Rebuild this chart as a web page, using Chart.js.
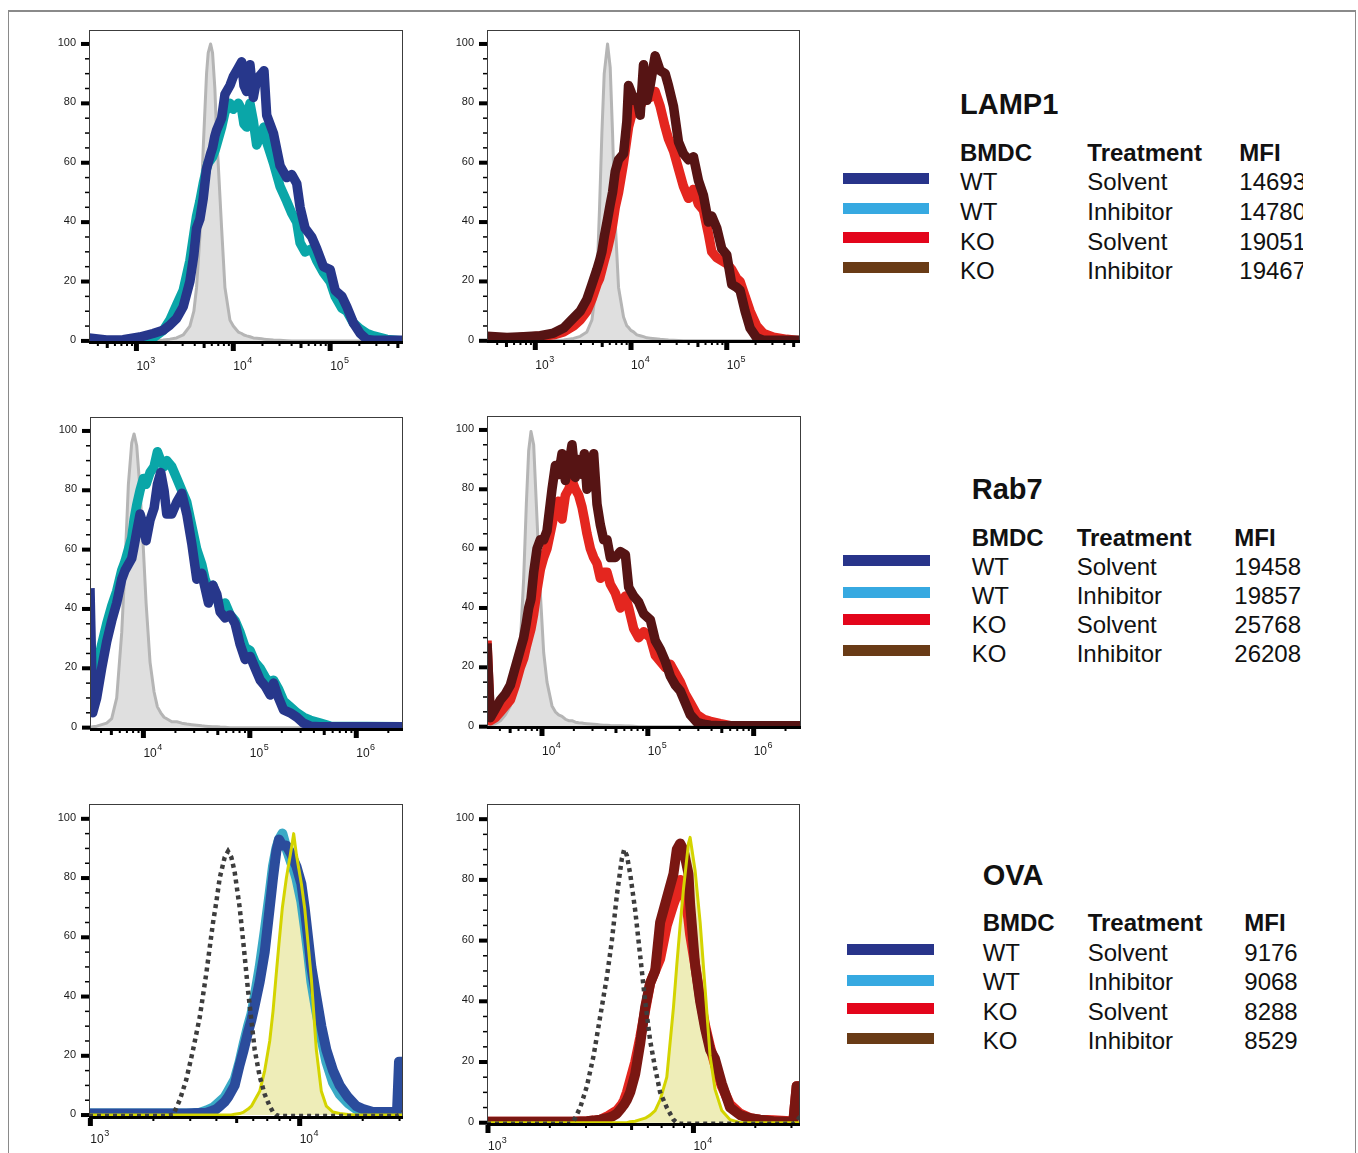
<!DOCTYPE html>
<html>
<head>
<meta charset="utf-8">
<script src="https://cdn.jsdelivr.net/npm/chart.js@4.4.1/dist/chart.umd.min.js"></script>
<style>
  body { margin: 0; background: #fff; }
  #page { position: relative; width: 1358px; height: 1153px; overflow: hidden; background: #fff;
          font-family: "Liberation Sans", Arial, Helvetica, sans-serif; color: #111; }
  #frame { position: absolute; left: 8px; top: 10px; width: 1346px; height: 1160px;
           border-top: 2px solid #8a8a8a; border-left: 1px solid #8a8a8a; border-right: 1px solid #8a8a8a; }
  canvas { position: absolute; }
  .t { position: absolute; white-space: nowrap; line-height: 1; }
  .sw { position: absolute; }
  .clip { position: absolute; overflow: hidden; }
</style>
</head>
<body>
<div id="page"><div id="frame"></div></div>
<script>
// ---- axis ticks ----
const yMajorTicks = [0, 20, 40, 60, 80, 100];
const yMinorTicks = [5, 10, 15, 25, 30, 35, 45, 50, 55, 65, 70, 75, 85, 90, 95];
const xTickMultiples = [1, 2, 3, 4, 5, 6, 7, 8, 9];

// ---- LAMP1, WT panel ----
const lampWtX = [324, 490, 728, 1082, 1486, 1887, 2212, 2593, 3040, 3564, 3918, 4177, 4520, 4895, 5297, 5508, 5834, 6109, 6456, 6727, 7578, 8199, 9239, 10000, 11270, 12200, 12890, 13740, 14870, 16100, 17420, 19630, 20750, 22130, 25940, 30400, 35640, 40110, 45190, 48950, 55090, 64570, 72770, 85320, 100000, 112700, 132100, 148600, 174200, 204300, 239400, 280600, 385500, 564900];
const lampWtSolvent = [1, 0.3, 0.4, 1.3, 2.5, 3.6, 5.3, 7.5, 11.5, 20, 29, 38, 41, 48, 58, 60, 63, 65, 69, 71, 75, 83, 86, 89, 92, 94, 86, 84, 93, 82, 88, 90, 91, 76, 70, 59, 55, 56, 53, 45, 38, 35, 31, 25, 24, 17, 15, 11.5, 6, 2.5, 0.5, 0.2, 0.2, 0.2];
const lampWtInhibitor = [0.3, 0, 0, 0.3, 1, 3.5, 7, 12, 17, 27, 36, 42, 47, 53, 58, 60, 61, 62, 64, 66, 72, 77, 80, 78, 80, 78, 73, 72, 80, 74, 66, 70, 72, 67, 60, 52, 47, 43, 40, 33, 30, 31, 27, 23, 20, 15, 11, 10, 6, 4, 2.5, 1.7, 0.5, 0];
const lampWtIsotype = [0, 0, 0, 0, 0, 0.3, 0.6, 1, 2, 5, 10, 18, 35, 65, 90, 97, 100, 97, 85, 70, 38, 18, 7, 5, 3, 2.5, 2, 1.7, 1.4, 1, 0.9, 0.7, 0.6, 0.5, 0.3, 0.2, 0.1, 0, 0, 0, 0, 0, 0, 0, 0, 0, 0, 0, 0, 0, 0, 0, 0, 0];

// ---- LAMP1, KO panel ----
const lampKoX = [313, 506, 756, 1128, 1554, 1976, 2512, 2949, 3460, 3903, 4400, 4692, 4963, 5248, 5687, 6063, 6412, 6837, 7406, 8352, 9048, 9417, 9961, 10620, 11510, 12460, 13500, 14630, 15850, 17870, 20150, 22730, 24620, 27770, 31310, 35310, 39810, 44890, 50620, 57080, 64370, 69730, 78660, 88690, 100000, 112800, 127200, 137800, 155400, 175200, 205600, 241400, 306900, 422700, 582300];
const lampKoSolvent = [0.5, 0.7, 1.2, 1.5, 2, 3, 5, 7, 10, 14, 19, 21, 24, 27, 31, 35, 39, 45, 50, 60, 68, 72, 75, 78, 80, 79, 81, 83, 82, 84, 79, 72, 68, 64, 58, 52, 48, 51, 46, 44, 36, 30, 28, 27, 26, 24, 21, 20, 15, 10, 5, 2.5, 1.2, 0.5, 0];
const lampKoInhibitor = [1.5, 1.1, 1.4, 1.7, 2.6, 4.3, 7.7, 10, 14, 19, 24, 27, 30, 35, 41, 46, 50, 57, 61, 63, 74, 86, 84, 81, 82, 76, 93, 81, 86, 96, 91, 90, 86, 79, 67, 63, 61, 62, 54, 49, 40, 42, 38, 31, 29, 19, 18, 17, 10, 4.3, 1, 0.2, 0.2, 0.2, 0.2];
const lampKoIsotype = [0, 0, 0, 0, 0, 0.3, 0.8, 1.5, 3, 7, 20, 45, 70, 90, 100, 92, 70, 40, 18, 8, 5, 4.5, 3.5, 3, 2, 1.7, 1.4, 1, 0.9, 0.7, 0.5, 0.4, 0.3, 0.2, 0.1, 0, 0, 0, 0, 0, 0, 0, 0, 0, 0, 0, 0, 0, 0, 0, 0, 0, 0, 0, 0];

// ---- Rab7, WT panel ----
const rabWtX = [3150, 3338, 3640, 4057, 4521, 5038, 5614, 6256, 6722, 7226, 7770, 8171, 8656, 9305, 10000, 10600, 11550, 12600, 13540, 14550, 15640, 16570, 18470, 20580, 22940, 25560, 28480, 31740, 35370, 38010, 40860, 44870, 48940, 52600, 58620, 65320, 72800, 81110, 90400, 100700, 112200, 125100, 139400, 155300, 167000, 186100, 207400, 239400, 276700, 319700, 369400, 458600, 569300, 2748000];
const rabWtSolvent = [47, 5, 10, 20, 29, 36, 42, 50, 53, 55, 57, 61, 66, 72, 68, 63, 70, 74, 82, 86, 80, 72, 72, 76, 79, 72, 62, 50, 52, 47, 42, 48, 45, 39, 37, 38, 35, 28, 23, 24, 20, 16, 14, 11, 15, 10, 6, 5, 3.5, 1.5, 0.5, 0.3, 0.3, 0.3];
const rabWtInhibitor = [16, 15, 20, 28, 35, 41, 46, 53, 56, 60, 64, 70, 75, 80, 84, 82, 86, 88, 93, 90, 88, 90, 88, 84, 80, 76, 68, 60, 55, 50, 47, 48, 44, 40, 42, 38, 36, 32, 27, 26, 22, 20, 17, 15, 16, 13, 9, 7, 5, 3.5, 2.5, 1.5, 0.5, 0.3];
const rabWtIsotype = [0, 0.3, 0.5, 1, 1.5, 3, 10, 32, 55, 82, 96, 99, 95, 80, 60, 42, 22, 12, 7, 5, 3.5, 3, 2, 2, 1.5, 1.2, 1, 0.8, 0.6, 0.5, 0.4, 0.3, 0.3, 0.2, 0.1, 0, 0, 0, 0, 0, 0, 0, 0, 0, 0, 0, 0, 0, 0, 0, 0, 0, 0, 0];

// ---- Rab7, KO panel ----
const rabKoX = [3022, 3250, 3624, 4040, 4503, 5021, 5598, 6241, 6711, 7112, 7482, 7871, 8343, 8971, 9645, 10370, 11150, 12430, 13370, 14370, 15450, 16620, 17870, 19210, 20650, 22210, 23880, 25120, 26620, 28620, 30770, 33090, 35580, 38250, 41130, 44220, 49310, 54980, 61310, 65920, 73490, 81920, 91340, 105600, 117700, 131300, 146400, 163200, 181900, 202800, 226100, 252100, 291400, 337000, 389600, 484200, 601800, 2801000];
const rabKoSolvent = [29, 2, 3, 5, 7, 9, 14, 20, 23, 27, 30, 33, 38, 46, 53, 57, 60, 68, 74, 76, 70, 78, 80, 83, 80, 78, 74, 70, 65, 60, 57, 55, 50, 52, 52, 48, 45, 40, 44, 40, 33, 30, 32, 30, 24, 22, 20, 21, 18, 15, 11, 8, 4, 2.5, 1.8, 1, 0.3, 0.3];
const rabKoInhibitor = [28, 3, 6, 9, 11, 14, 20, 26, 30, 35, 40, 43, 52, 60, 63, 63, 66, 80, 88, 85, 92, 83, 88, 95, 84, 90, 85, 92, 80, 82, 92, 75, 68, 63, 63, 57, 57, 59, 58, 47, 44, 42, 38, 36, 29, 26, 22, 17, 14, 12, 8, 4, 1.5, 0.8, 0.5, 0.3, 0.3, 0.3];
const rabKoIsotype = [0, 0.5, 1, 2, 4, 7, 14, 28, 50, 75, 93, 99.5, 95, 70, 45, 25, 15, 7, 5, 4, 3.5, 2.5, 2, 2, 1.5, 1.3, 1.2, 1.1, 1, 0.9, 0.8, 0.7, 0.6, 0.5, 0.5, 0.4, 0.3, 0.3, 0.2, 0.2, 0.1, 0, 0, 0, 0, 0, 0, 0, 0, 0, 0, 0, 0, 0, 0, 0, 0, 0];

// ---- OVA, WT panel ----
const ovaWtX = [985, 1721, 2307, 2483, 2672, 2874, 3094, 3330, 3583, 3855, 3999, 4148, 4382, 4546, 4716, 4892, 5169, 5401, 5666, 5877, 6096, 6442, 6806, 7192, 7457, 7735, 7966, 8264, 8638, 9125, 9361, 9640, 10190, 10560, 10960, 11370, 12010, 12690, 13410, 14430, 15530, 17020, 18650, 20070, 22400, 27920, 29170, 29820, 31160];
const ovaWtSolvent = [0.5, 0.5, 0.5, 0.5, 0.5, 0.5, 0.6, 0.7, 0.8, 1.5, 2, 3, 4.5, 6, 8, 10, 17, 22, 28, 32, 37, 45, 55, 70, 80, 89, 93, 91, 91, 88, 86, 84, 78, 70, 60, 50, 40, 30, 22, 15, 10, 6, 3, 2, 1, 1, 1, 18, 18];
const ovaWtInhibitor = [0.5, 0.5, 0.5, 0.5, 0.5, 0.5, 0.6, 0.8, 1.5, 2.5, 3.5, 4.5, 6, 8, 10, 12, 18, 24, 30, 34, 40, 50, 62, 75, 84, 90, 93, 95, 90, 85, 83, 80, 72, 64, 55, 45, 35, 26, 18, 11, 7, 4, 2, 1, 0.5, 0.5, 0.5, 0.5, 0.5];
const ovaWtUnstained = [-0.3, -0.3, -0.3, 0, 5, 12, 22, 33, 48, 65, 72, 80, 87, 89, 87, 82, 70, 57, 42, 32, 22, 13, 7, 3, 1, 0, -0.3, -0.3, -0.3, -0.3, -0.3, -0.3, -0.3, -0.3, -0.3, -0.3, -0.3, -0.3, -0.3, -0.3, -0.3, -0.3, -0.3, -0.3, -0.3, -0.3, -0.3, 0, 1];
const ovaWtReference = [0, 0, 0, 0, 0, 0, 0, 0, 0, 0, 0, 0, 0, 0, 0, 0.3, 0.5, 1, 2, 3, 5, 8, 15, 25, 35, 48, 58, 70, 80, 90, 95, 88, 78, 70, 58, 46, 22, 8, 3, 1, 0.5, 0.2, 0, 0, 0, 0, 0, 0, 0];

// ---- OVA, KO panel ----
const ovaKoX = [989, 2514, 2609, 2811, 3029, 3264, 3517, 3790, 4009, 4240, 4483, 4602, 4743, 4922, 5205, 5505, 5821, 6156, 6510, 6885, 7419, 7994, 8299, 8615, 8943, 9457, 9634, 10190, 10780, 11400, 12050, 12740, 13740, 15080, 16870, 18860, 21090, 24490, 29510, 30630, 31800, 33010];
const ovaKoSolvent = [0.3, 0.3, 0.3, 0.4, 0.5, 0.7, 1, 2, 3, 4, 6, 7.5, 10, 14, 20, 28, 37, 46, 50, 54, 65, 72, 75, 80, 78, 67, 62, 52, 41, 32, 25, 19, 12, 6, 3, 1.5, 1, 0.8, 0.5, 0.5, 12, 12];
const ovaKoInhibitor = [0.3, 0.3, 0.3, 0.4, 0.5, 0.7, 1, 1.5, 2, 3, 5, 6, 7.5, 10, 16, 26, 38, 46, 50, 66, 74, 82, 90, 92, 90, 82, 72, 52, 40, 31, 24, 21, 13, 5, 2.5, 1.5, 1, 0.5, 0.3, 0.5, 12, 12];
const ovaKoUnstained = [-0.3, -0.3, 0.5, 5, 12, 22, 35, 48, 60, 75, 87, 90, 88, 82, 70, 55, 40, 27, 18, 10, 5, 1, 0, -0.3, -0.3, -0.3, -0.3, -0.3, -0.3, -0.3, -0.3, -0.3, -0.3, -0.3, -0.3, -0.3, -0.3, -0.3, -0.3, -0.3, 0.5, 2];
const ovaKoReference = [0, 0, 0, 0, 0, 0, 0, 0, 0, 0, 0, 0, 0, 0.3, 0.5, 1, 1.5, 2.5, 4, 7.5, 15, 38, 52, 65, 77, 92, 94, 83, 66, 44, 22, 11, 4, 1, 0, 0, 0, 0, 0, 0, 0, 0];

// ---- legend tables ----
const legendBmdc = ['WT', 'WT', 'KO', 'KO'];
const legendTreatment = ['Solvent', 'Inhibitor', 'Solvent', 'Inhibitor'];
const legendColors = ['#28348a', '#36a9e1', '#e3051b', '#693b16'];
const mfiLamp1 = ['14693', '14780', '19051', '19467'];
const mfiRab7 = ['19458', '19857', '25768', '26208'];
const mfiOva = ['9176', '9068', '8288', '8529'];

const FONT = '"Liberation Sans", Arial, Helvetica, sans-serif';
const page = document.getElementById('page');

const flowAxes = {
  id: 'flowAxes',
  afterDraw(chart) {
    const o = chart.options.plugins.flowAxes;
    const { ctx, chartArea: a } = chart;
    const xs = chart.scales.x, ys = chart.scales.y;
    ctx.save();
    ctx.strokeStyle = '#3c3c3c';
    ctx.lineWidth = 1;
    ctx.strokeRect(a.left + 0.5, a.top + 0.5, a.right - a.left - 1, a.bottom - a.top - 1);
    ctx.fillStyle = '#000';
    ctx.fillRect(a.left, a.bottom - 2, a.right - a.left, 3);

    // y axis
    ctx.font = '11px ' + FONT;
    ctx.textAlign = 'right';
    ctx.textBaseline = 'middle';
    yMajorTicks.forEach(v => {
      const py = ys.getPixelForValue(v);
      ctx.fillStyle = '#000';
      ctx.fillRect(a.left - 8, py - 2, 8, 4);
      ctx.fillStyle = '#1a1a1a';
      ctx.fillText(String(v), a.left - 13, py - 1);
    });
    ctx.fillStyle = '#000';
    yMinorTicks.forEach(v => {
      const py = ys.getPixelForValue(v);
      ctx.fillRect(a.left - 4, py - 0.75, 4, 1.5);
    });

    // x axis (log decades)
    const lo = Math.floor(Math.log10(xs.min)), hi = Math.ceil(Math.log10(xs.max));
    for (let e = lo; e <= hi; e++) {
      xTickMultiples.forEach(m => {
        const v = m * Math.pow(10, e);
        if (v < xs.min || v > xs.max) return;
        const px = xs.getPixelForValue(v);
        if (m === 1) ctx.fillRect(px - 2.5, a.bottom, 5, 8);
        else if (m === 5) ctx.fillRect(px - 1.5, a.bottom, 3, 5);
        else ctx.fillRect(px - 1, a.bottom, 2, 3);
      });
    }
    ctx.fillStyle = '#1a1a1a';
    ctx.textAlign = 'left';
    ctx.textBaseline = 'alphabetic';
    o.exps.forEach(e => {
      const px = xs.getPixelForValue(Math.pow(10, e)) + o.labelShift;
      const base = a.bottom + o.labelGap;
      ctx.font = '12px ' + FONT;
      ctx.fillText('10', px, base);
      const w = ctx.measureText('10').width;
      ctx.font = '9px ' + FONT;
      ctx.fillText(String(e), px + w + 0.5, base - 7);
    });
    ctx.restore();
  }
};

const pts = (xs, ys) => xs.map((x, i) => ({ x, y: ys[i] }));

function line(xs, ys, color, width, extra) {
  return Object.assign({
    data: pts(xs, ys), borderColor: color, borderWidth: width, pointRadius: 0,
    tension: 0, fill: false, clip: 0, borderJoinStyle: 'round'
  }, extra || {});
}

function panel(area, xMin, xMax, yMin, yMax, exps, labelGap, datasets) {
  const padL = 50, padT = 12, padR = 12, padB = 45;
  const w = area[2] - area[0] + padL + padR;
  const h = area[3] - area[1] + padT + padB;
  const c = document.createElement('canvas');
  c.width = w; c.height = h;
  c.style.left = (area[0] - padL) + 'px';
  c.style.top = (area[1] - padT) + 'px';
  c.style.width = w + 'px';
  c.style.height = h + 'px';
  page.appendChild(c);
  new Chart(c, {
    type: 'line',
    data: { datasets },
    options: {
      responsive: false,
      animation: false,
      events: [],
      layout: { padding: { left: padL, top: padT, right: padR, bottom: padB } },
      plugins: {
        legend: { display: false },
        tooltip: { enabled: false },
        flowAxes: { exps, labelGap, labelShift: 0 }
      },
      scales: {
        x: { type: 'logarithmic', min: xMin, max: xMax, display: false },
        y: { type: 'linear', min: yMin, max: yMax, display: false }
      }
    },
    plugins: [flowAxes]
  });
}

const isoStyle = { fill: 'origin', backgroundColor: '#dfdfdf', borderColor: '#b5b5b5' };

panel([89, 30, 403, 343], 324, 564900, -0.7, 104.7, [3, 4, 5], 27, [
  line(lampWtX, lampWtSolvent, '#27378b', 9.5),
  line(lampWtX, lampWtInhibitor, '#0aa6a8', 9.5),
  line(lampWtX, lampWtIsotype, '#b5b5b5', 3, isoStyle)
]);
panel([487, 30, 800, 342], 313, 582300, -0.4, 104.7, [3, 4, 5], 27, [
  line(lampKoX, lampKoInhibitor, '#561414', 9.5),
  line(lampKoX, lampKoSolvent, '#e4261f', 9.5),
  line(lampKoX, lampKoIsotype, '#b5b5b5', 3, isoStyle)
]);
panel([90, 417, 403, 730], 3150, 2748000, -0.8, 104.7, [4, 5, 6], 27, [
  line(rabWtX, rabWtSolvent, '#27378b', 9.5),
  line(rabWtX, rabWtInhibitor, '#0aa6a8', 9.5),
  line(rabWtX, rabWtIsotype, '#b5b5b5', 3, isoStyle)
]);
panel([487, 416, 801, 728], 3022, 2801000, -0.45, 104.7, [4, 5, 6], 27, [
  line(rabKoX, rabKoInhibitor, '#561414', 9.5),
  line(rabKoX, rabKoSolvent, '#e4261f', 9.5),
  line(rabKoX, rabKoIsotype, '#b5b5b5', 3, isoStyle)
]);
panel([89, 804, 403, 1118], 985, 31160, -1, 105, [3, 4], 25, [
  line(ovaWtX, ovaWtUnstained, '#3d3d3d', 4.5, { borderDash: [4, 4], borderJoinStyle: 'miter' }),
  line(ovaWtX, ovaWtReference, '#d4d400', 3),
  line(ovaWtX, ovaWtSolvent, '#2b4c9c', 10),
  line(ovaWtX, ovaWtInhibitor, '#3aaac6', 10),
  line(ovaWtX, ovaWtReference, 'rgba(0,0,0,0)', 0, { fill: 'origin', backgroundColor: '#eeedb8' })
]);
panel([487, 804, 800, 1125], 989, 33010, -0.75, 105, [3, 4], 25, [
  line(ovaKoX, ovaKoUnstained, '#3d3d3d', 4.5, { borderDash: [4, 4], borderJoinStyle: 'miter' }),
  line(ovaKoX, ovaKoReference, '#d4d400', 3),
  line(ovaKoX, ovaKoInhibitor, '#7a1712', 10),
  line(ovaKoX, ovaKoSolvent, '#e4261f', 10),
  line(ovaKoX, ovaKoReference, 'rgba(0,0,0,0)', 0, { fill: 'origin', backgroundColor: '#eeedb8' })
]);

// ---- legend tables (HTML text) ----
function text(str, x, baseline, size, bold) {
  const d = document.createElement('div');
  d.className = 't';
  d.textContent = str;
  d.style.left = x + 'px';
  d.style.top = (baseline - 0.8465 * size) + 'px';
  d.style.fontSize = size + 'px';
  d.style.fontWeight = bold ? 'bold' : 'normal';
  page.appendChild(d);
  return d;
}

function legendBlock(cfg, mfi) {
  text(cfg.title, cfg.cols[0], cfg.titleBase, 29, true);
  text('BMDC', cfg.cols[0], cfg.headBase, 24, true);
  text('Treatment', cfg.cols[1], cfg.headBase, 24, true);
  text('MFI', cfg.cols[2], cfg.headBase, 24, true);
  const clip = document.createElement('div');
  clip.className = 'clip';
  clip.style.left = cfg.cols[2] + 'px';
  clip.style.top = (cfg.rowBase[0] - 30) + 'px';
  clip.style.width = (cfg.clipRight - cfg.cols[2]) + 'px';
  clip.style.height = (cfg.rowBase[3] - cfg.rowBase[0] + 40) + 'px';
  page.appendChild(clip);
  legendBmdc.forEach((b, i) => {
    text(b, cfg.cols[0], cfg.rowBase[i], 24, false);
    text(legendTreatment[i], cfg.cols[1], cfg.rowBase[i], 24, false);
    const m = text(mfi[i], 0, cfg.rowBase[i] - (cfg.rowBase[0] - 30), 24, false);
    clip.appendChild(m);
    const s = document.createElement('div');
    s.className = 'sw';
    s.style.left = cfg.swatchX[0] + 'px';
    s.style.width = (cfg.swatchX[1] - cfg.swatchX[0]) + 'px';
    s.style.top = cfg.swatchTop[i] + 'px';
    s.style.height = '11px';
    s.style.background = legendColors[i];
    page.appendChild(s);
  });
}

legendBlock({ title: 'LAMP1', titleBase: 115, headBase: 161.7, cols: [960, 1087.3, 1239.3],
  rowBase: [190.7, 220, 250, 279.3], swatchX: [842.7, 929], swatchTop: [173, 203, 232, 262],
  clipRight: 1302.7 }, mfiLamp1);
legendBlock({ title: 'Rab7', titleBase: 500, headBase: 546, cols: [971.7, 1076.7, 1234.3],
  rowBase: [575, 604.3, 633.3, 662.3], swatchX: [843.3, 930], swatchTop: [555, 586.7, 614.3, 645],
  clipRight: 1320 }, mfiRab7);
legendBlock({ title: 'OVA', titleBase: 886, headBase: 931.7, cols: [982.7, 1087.7, 1244.3],
  rowBase: [961, 990.7, 1020, 1049.3], swatchX: [847.3, 934], swatchTop: [944.3, 975, 1002.7, 1033.3],
  clipRight: 1320 }, mfiOva);
</script>
</body>
</html>
